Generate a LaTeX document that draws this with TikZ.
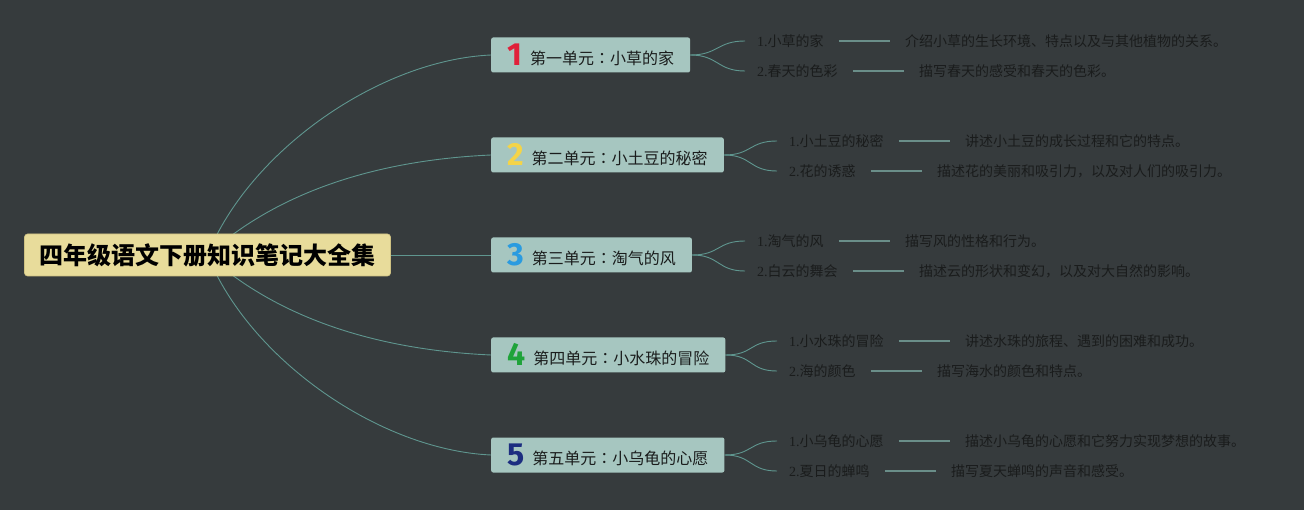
\documentclass[tikz,border=0pt]{standalone}
\usepackage{fontspec}
\setmainfont{Liberation Serif}
\newfontfamily\cjk{Noto Sans CJK SC}
\newfontfamily\cjkc{Noto Sans CJK TC}
\newfontfamily\numf{Fira Sans}
\usetikzlibrary{positioning,calc}
\definecolor{bgc}{HTML}{363B3D}
\definecolor{rootfill}{HTML}{E8DC9B}
\definecolor{rootline}{HTML}{CFC283}
\definecolor{boxfill}{HTML}{A6C6C0}
\definecolor{linkc}{HTML}{5F968F}
\definecolor{dashc}{HTML}{6A8E89}
\definecolor{leafc}{HTML}{1A1C1C}
\definecolor{nA}{HTML}{E0203A}
\definecolor{nB}{HTML}{F4D448}
\definecolor{nC}{HTML}{2A9BE0}
\definecolor{nD}{HTML}{1FA33A}
\definecolor{nE}{HTML}{1C2D80}
\pgfdeclarelayer{bg}
\pgfsetlayers{bg,main}
\begin{document}
\begin{tikzpicture}[x=1pt,y=-1pt,
  rootbox/.style={fill=rootfill,draw=rootline,line width=0.6pt,rounded corners=3pt,
    font=\cjk\bfseries\fontsize{24}{28}\selectfont,text=black,inner xsep=15pt,
    minimum height=42pt,inner ysep=0pt},
  unitbox/.style={fill=boxfill,rounded corners=2pt,anchor=west,
    font=\cjk\fontsize{16}{18}\selectfont,text=leafc,inner xsep=16pt,
    minimum height=35pt,inner ysep=0pt},
  leaf/.style={font=\cjk\fontsize{14}{16}\selectfont,text=leafc,inner xsep=12pt,
    inner ysep=2pt,anchor=west},
  desc/.style={font=\cjk\fontsize{14}{16}\selectfont,text=leafc,inner xsep=12pt,
    inner ysep=2pt},
  link/.style={draw=linkc,line width=0.9pt},
  tie/.style={draw=dashc,line width=1.2pt,shorten <=3pt,shorten >=3pt}]
\newcommand{\unum}[2]{{\numf\bfseries\fontsize{32}{32}\selectfont\color{#1}\raisebox{-1pt}{#2}}\hspace{8pt}}
\newcommand{\ucolon}{{\cjkc ：}}

\useasboundingbox (0,0) rectangle (1304,510);

\node[rootbox] (root) at (207.5,255) {四年级语文下册知识笔记大全集};

\node[unitbox] (b1) at (491,55)  {\unum{nA}{1}第一单元\ucolon 小草的家};
\node[unitbox] (b2) at (491,155) {\unum{nB}{2}第二单元\ucolon 小土豆的秘密};
\node[unitbox] (b3) at (491,255) {\unum{nC}{3}第三单元\ucolon 淘气的风};
\node[unitbox] (b4) at (491,355) {\unum{nD}{4}第四单元\ucolon 小水珠的冒险};
\node[unitbox] (b5) at (491,455) {\unum{nE}{5}第五单元\ucolon 小乌龟的心愿};

% leaves unit 1
\node[leaf] (l11) at (745,41) {{\rmfamily 1.}小草的家};
\node[desc,right=57pt of l11] (d11) {介绍小草的生长环境、特点以及与其他植物的关系。};
\node[leaf] (l12) at (745,71) {{\rmfamily 2.}春天的色彩};
\node[desc,right=57pt of l12] (d12) {描写春天的感受和春天的色彩。};
% unit 2
\node[leaf] (l21) at (777,141) {{\rmfamily 1.}小土豆的秘密};
\node[desc,right=57pt of l21] (d21) {讲述小土豆的成长过程和它的特点。};
\node[leaf] (l22) at (777,171) {{\rmfamily 2.}花的诱惑};
\node[desc,right=57pt of l22] (d22) {描述花的美丽和吸引力，以及对人们的吸引力。};
% unit 3
\node[leaf] (l31) at (745,241) {{\rmfamily 1.}淘气的风};
\node[desc,right=57pt of l31] (d31) {描写风的性格和行为。};
\node[leaf] (l32) at (745,271) {{\rmfamily 2.}白云的舞会};
\node[desc,right=57pt of l32] (d32) {描述云的形状和变幻，以及对大自然的影响。};
% unit 4
\node[leaf] (l41) at (777,341) {{\rmfamily 1.}小水珠的冒险};
\node[desc,right=57pt of l41] (d41) {讲述水珠的旅程、遇到的困难和成功。};
\node[leaf] (l42) at (777,371) {{\rmfamily 2.}海的颜色};
\node[desc,right=57pt of l42] (d42) {描写海水的颜色和特点。};
% unit 5
\node[leaf] (l51) at (777,441) {{\rmfamily 1.}小乌龟的心愿};
\node[desc,right=57pt of l51] (d51) {描述小乌龟的心愿和它努力实现梦想的故事。};
\node[leaf] (l52) at (777,471) {{\rmfamily 2.}夏日的蝉鸣};
\node[desc,right=57pt of l52] (d52) {描写夏天蝉鸣的声音和感受。};

\begin{pgfonlayer}{bg}
  \fill[bgc] (0,0) rectangle (1304,510);
  \draw[link] (root.center) .. controls (250,150) and (380,60) .. (b1.west);
  \draw[link] (root.center) .. controls (280,190) and (380,160) .. (b2.west);
  \draw[link] (root.east) -- (b3.west);
  \draw[link] (root.center) .. controls (280,320) and (380,350) .. (b4.west);
  \draw[link] (root.center) .. controls (250,360) and (380,450) .. (b5.west);
  \foreach \u in {1,...,5}{
    \foreach \k in {1,2}{
      \draw[link] (b\u.east) .. controls +(28,0) and +(-28,0) .. (l\u\k.west);
      \draw[tie] (l\u\k.east) -- (d\u\k.west);
    }
  }
\end{pgfonlayer}
\end{tikzpicture}
\end{document}
